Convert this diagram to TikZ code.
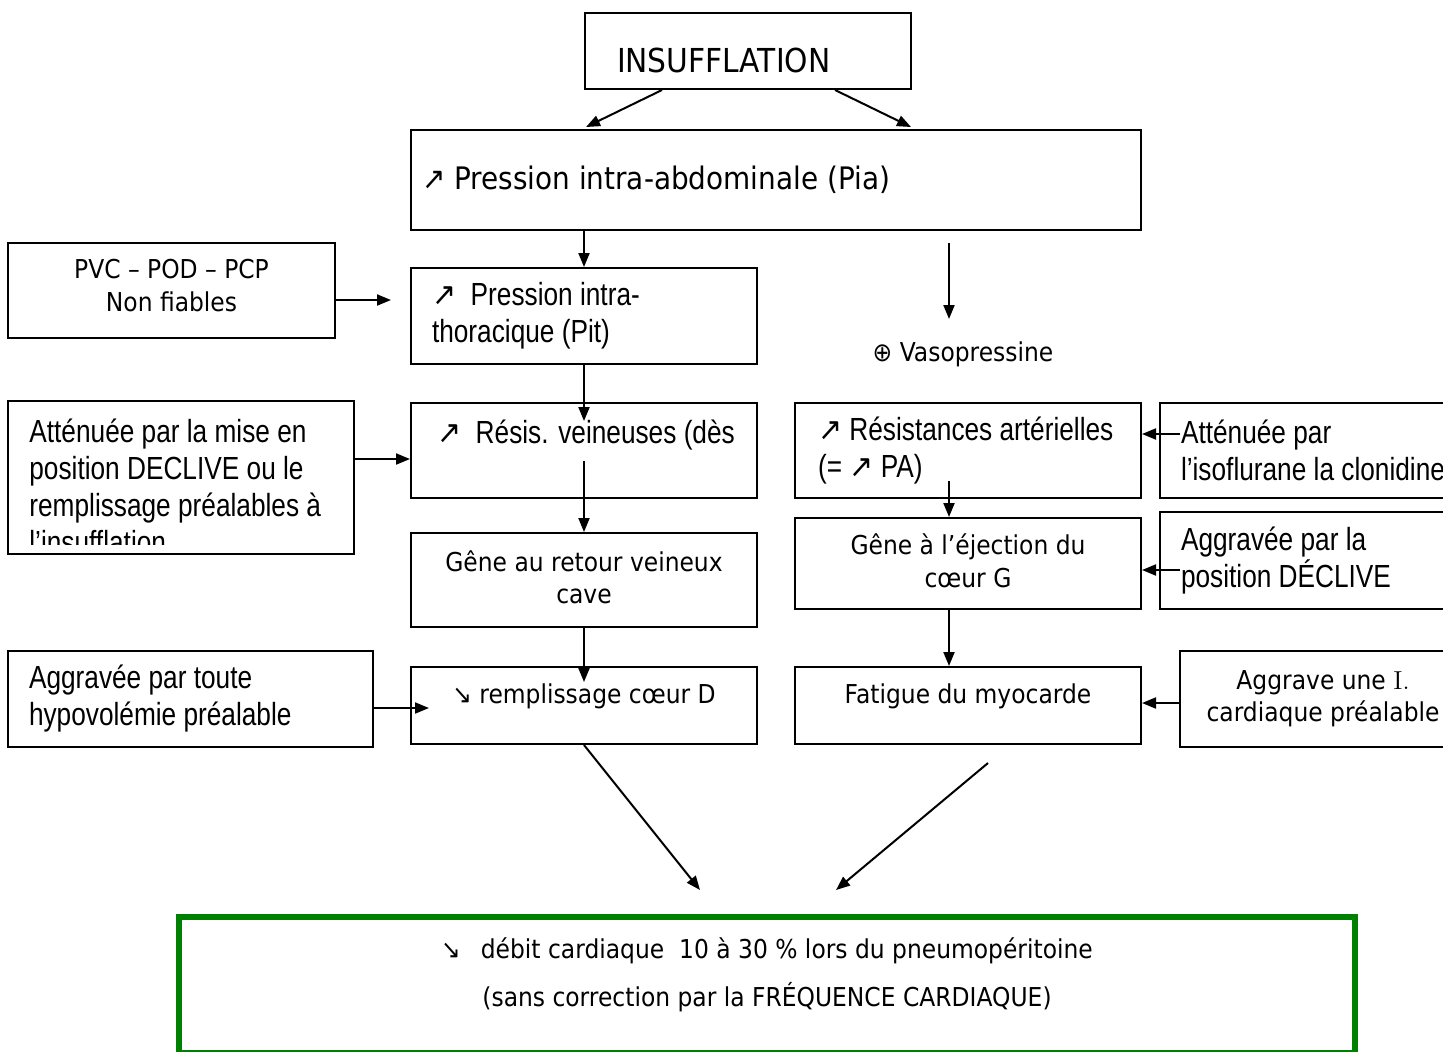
\documentclass[tikz,border=0pt]{standalone}
\usepackage{fontspec}
\usetikzlibrary{arrows.meta}
\newfontfamily\tah{DejaVu Sans}[FakeStretch=0.9]
\newfontfamily\nar{Liberation Sans}[FakeStretch=0.82]
\definecolor{boxgreen}{RGB}{0,128,0}
\tikzset{
  box/.style={draw, line width=1pt, inner sep=0pt},
  tahoma/.style={font=\tah\fontsize{13}{16.2}\selectfont},
  narrow/.style={font=\nar\fontsize{16}{18.5}\selectfont},
  arr/.style={-{Triangle[length=7pt,width=5.5pt]}, line width=1pt},
}
\begin{document}
\begin{tikzpicture}[x=0.5pt,y=-0.5pt]
    \useasboundingbox (0,0) rectangle (1443,1051);
    \clip (0,0) rectangle (1443,1051);

    \node[box, font=\tah\fontsize{16.5}{20}\selectfont, minimum width=163pt, minimum height=38pt,
      text width=131pt, text height=29.5pt, text depth=8.5pt, align=flush left] (1) at (748,51) {INSUFFLATION};
    \node[box, font=\tah\fontsize{15.5}{19}\selectfont, minimum width=365pt, minimum height=50pt,
      text width=354pt, align=flush left] (2) at (776,180) {\mbox{↗ Pression intra-abdominale (Pia)}};
    \node[box, narrow, minimum width=173pt, minimum height=48pt, text width=152pt, align=flush left]
      (3) at (584,316) {\mbox{{\tah ↗}\ \ Pression intra-}\\\mbox{thoracique (Pit)}};
    \node[box, tahoma, minimum width=163.5pt, minimum height=47.5pt, align=flush center, text depth=5pt]
      (4) at (171.5,290.5) {PVC – POD – PCP\\Non fiables};
    \node[box, narrow, minimum width=173pt, minimum height=47.5pt, text width=147pt, align=flush left]
      (5) at (584,450.5) {\mbox{{\tah ↗}\ \ Résis. veineuses (dès}\\ \mbox{}};
    \node[box, minimum width=173pt, minimum height=76.5pt] (6) at (181,477.5) {};
    \begin{scope}
      \clip (8,401) rectangle (354,544);
      \node[narrow, anchor=north west, align=flush left, inner sep=0pt] (7) at (29,419)
        {Atténuée par la mise en\\position DECLIVE ou le\\remplissage préalables à\\l’insufflation};
    \end{scope}
    \node[box, tahoma, minimum width=173pt, minimum height=47pt, align=flush center, text depth=3pt]
      (8) at (584,580) {Gêne au retour veineux\\cave};
    \node[box, tahoma, minimum width=173pt, minimum height=38.5pt, text height=18pt, text depth=20.5pt]
      (9) at (584,705.5) {↘ remplissage cœur D};
    \node[box, narrow, minimum width=182.5pt, minimum height=48pt, text width=161.5pt, align=flush left]
      (10) at (190.5,699) {\mbox{Aggravée par toute}\\\mbox{hypovolémie préalable}};

    \node[box, narrow, minimum width=173pt, minimum height=47.5pt, text width=150pt, align=flush left]
      (11) at (968,450.5) {\mbox{{\tah ↗} Résistances artérielles}\\\mbox{(= {\tah ↗} PA)}};
    \node[tahoma, inner sep=0pt] (12) at (963,354) {⊕ Vasopressine};
    \node[box, tahoma, minimum width=173pt, minimum height=45.5pt, align=flush center, text depth=3pt]
      (13) at (968,563.5) {Gêne à l’éjection du\\cœur G};
    \node[box, tahoma, minimum width=173pt, minimum height=38.5pt, text height=18pt, text depth=20.5pt]
      (14) at (968,705.5) {Fatigue du myocarde};
    \node[box, narrow, minimum width=155pt, minimum height=47.5pt, text width=134pt, align=flush left]
      (15) at (1315,450.5) {\mbox{Atténuée par}\\\mbox{l’isoflurane la clonidine}};
    \node[box, narrow, minimum width=155pt, minimum height=48.5pt, text width=134pt, align=flush left]
      (16) at (1315,560.5) {\mbox{Aggravée par la}\\\mbox{position DÉCLIVE}};
    \node[box, tahoma, minimum width=143pt, minimum height=48pt, align=flush center, text depth=3pt]
      (17) at (1323,699) {Aggrave une {\rmfamily I.}\\cardiaque préalable};

    \node[box, draw=boxgreen, line width=3pt, minimum width=588pt, minimum height=68pt] (18) at (767,985) {};
    \node[tahoma, align=flush center, inner sep=0pt] (19) at (767,975)
      {↘\hspace{10pt}débit cardiaque\ \ 10 à 30 \% lors du pneumopéritoine\\[8pt](sans correction par la FRÉQUENCE CARDIAQUE)};

    \draw[arr] ([xshift=-43pt]1.south) -- ([xshift=-95pt,yshift=1pt]2.north);
    \draw[arr] ([xshift=43.5pt]1.south) -- ([xshift=67.5pt,yshift=1pt]2.north);
    \draw[arr] (2.south -| 3.north) -- (3.north);
    \draw[arr] ([xshift=86.5pt,yshift=-6pt]2.south) -- ([xshift=86.5pt,yshift=-44pt]2.south);
    \draw[arr] ([yshift=-4.75pt]4.east) -- ([xshift=-9.5pt,yshift=8pt]3.west);
    \draw[arr] (3.south) -- ([yshift=-9.5pt]5.north);
    \draw[arr] ([yshift=9.25pt]6.east) -- ([yshift=-4.25pt]5.west);
    \draw[arr] ([yshift=19pt]5.south) -- (8.north);
    \draw[arr] (8.south) -- ([yshift=-8pt]9.north);
    \draw[arr] ([yshift=-4.5pt]10.east) -- ([xshift=9.5pt,yshift=-1.25pt]9.west);
    \draw[arr] ([xshift=-9.5pt,yshift=9pt]11.south) -- ([xshift=-9.5pt]13.north);
    \draw[arr] ([xshift=-9.5pt]13.south) -- ([xshift=-9.5pt]14.north);
    \draw[arr] ([xshift=10.5pt,yshift=8.25pt]15.west) -- ([yshift=8.25pt]11.east);
    \draw[arr] ([xshift=10.5pt,yshift=-4.75pt]16.west) -- ([yshift=-3.25pt]13.east);
    \draw[arr] ([yshift=-2pt]17.west) -- ([yshift=1.25pt]14.east);
    \draw[arr] (9.south) -- ([xshift=-33.5pt,yshift=12pt]18.north);
    \draw[arr] ([xshift=10pt,yshift=-9pt]14.south) -- ([xshift=34.5pt,yshift=12pt]18.north);

  \end{tikzpicture}
\end{document}
